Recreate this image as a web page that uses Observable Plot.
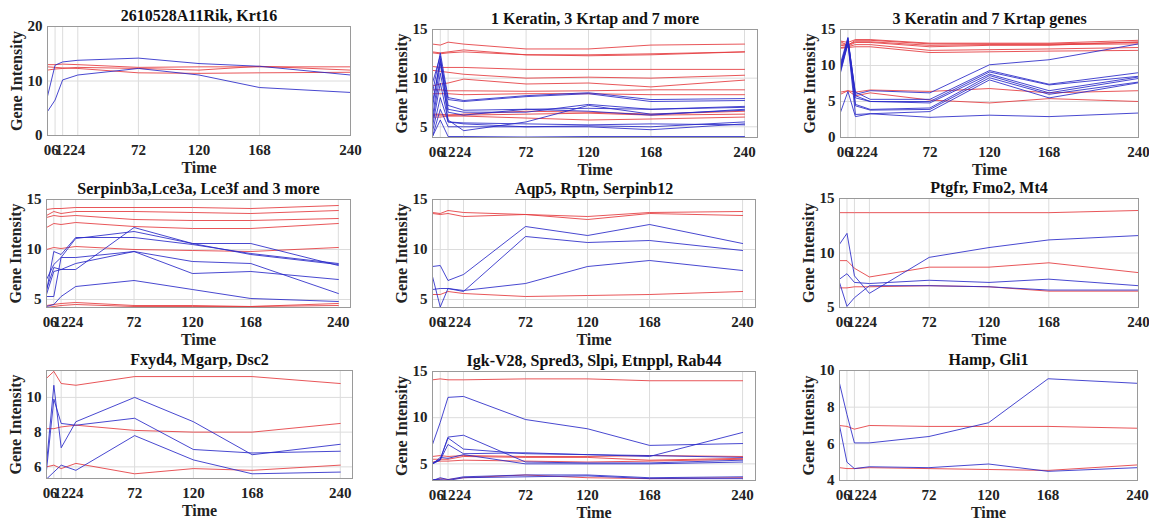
<!DOCTYPE html>
<html><head><meta charset="utf-8">
<script src="https://cdn.jsdelivr.net/npm/d3@7"></script>
<script src="https://cdn.jsdelivr.net/npm/@observablehq/plot@0.6"></script>
<style>
body{margin:0;background:#fff;}
#chart{position:relative;width:1149px;height:523px;overflow:hidden;background:#fff;}
#chart svg{position:absolute;overflow:visible;}
</style></head><body><div id="chart"></div>
<script>
// ---- data ----
const times = [0, 6, 12, 24, 72, 120, 168, 240];
const timeTickLabels = ["0", "6", "12", "24", "72", "120", "168", "240"];
const titles = [
  "2610528A11Rik, Krt16",
  "1 Keratin, 3 Krtap and 7 more",
  "3 Keratin and 7 Krtap genes",
  "Serpinb3a,Lce3a, Lce3f and 3 more",
  "Aqp5, Rptn, Serpinb12",
  "Ptgfr, Fmo2, Mt4",
  "Fxyd4, Mgarp, Dsc2",
  "Igk-V28, Spred3, Slpi, Etnppl, Rab44",
  "Hamp, Gli1"
];

const p1Red = [
  [13.0,13.0,13.1,13.0,12.5,12.6,12.6,12.6],
  [12.0,12.2,12.3,12.5,12.3,12.0,12.7,12.0],
  [12.6,12.5,12.4,12.3,11.5,11.4,11.5,11.6]
];
const p1Blue = [
  [7.2,12.9,13.5,13.8,14.2,13.2,12.7,11.1],
  [4.4,6.5,10.2,11.1,12.3,11.1,8.8,7.9]
];
const p2Red = [
  [13.5,13.4,13.7,13.5,13.0,13.0,13.4,13.5],
  [12.7,12.6,12.7,12.9,12.4,12.3,12.4,12.7],
  [12.6,12.5,12.6,12.7,12.4,12.4,12.5,12.7],
  [11.2,11.1,11.1,11.1,10.9,10.9,10.9,10.9],
  [10.8,10.7,10.6,10.4,10.0,10.1,10.0,10.3],
  [9.2,9.4,9.5,9.9,9.4,9.5,9.1,9.8],
  [8.8,8.8,8.7,8.7,8.65,8.7,8.8,8.8],
  [8.4,8.4,8.4,8.3,8.4,8.4,8.3,8.3],
  [6.2,6.2,6.2,6.3,6.6,6.5,6.3,6.6],
  [6.0,6.0,6.1,6.1,5.9,5.7,5.8,6.0],
  [6.3,6.3,6.2,6.2,6.3,6.4,6.2,6.3]
];
const p2Blue = [
  [8.5,12.6,8.0,7.7,8.2,8.5,7.8,7.9],
  [7.0,12.0,7.8,7.6,8.1,8.4,7.6,7.7],
  [6.0,11.5,6.8,6.5,6.5,7.3,6.8,7.1],
  [5.5,10.5,6.5,6.2,6.8,6.6,6.2,6.8],
  [5.0,9.5,5.7,4.6,5.5,7.2,6.3,6.7],
  [4.5,8.0,5.5,5.3,5.0,5.0,4.7,5.3],
  [4.0,6.8,5.0,5.0,5.0,5.1,5.0,5.5],
  [4.0,5.7,4.0,4.0,3.95,4.0,4.0,4.0],
  [9.5,12.3,5.5,5.4,5.3,5.2,5.3,5.2],
  [7.5,11.8,7.2,6.7,6.8,6.9,6.8,7.0]
];
const p3Red = [
  [13.3,12.8,13.5,13.5,13.0,13.0,13.0,13.2],
  [13.0,12.9,13.3,13.3,12.8,12.9,12.9,13.0],
  [12.8,12.7,13.2,13.2,12.6,12.8,12.8,13.3],
  [12.5,12.6,12.9,12.9,12.1,12.2,12.3,12.5],
  [12.4,12.5,12.6,12.6,11.8,11.9,12.0,12.1],
  [13.4,13.2,13.6,13.6,13.1,13.1,13.1,13.5],
  [6.3,6.5,6.3,6.6,6.4,6.8,6.2,6.5],
  [6.0,6.5,5.8,6.2,5.2,4.8,5.4,5.0]
];
const p3Blue = [
  [9.5,13.8,6.0,6.5,6.2,10.1,10.8,13.0],
  [10.0,13.5,6.3,5.3,5.3,9.3,7.4,9.0],
  [9.8,13.6,5.8,5.0,5.0,9.1,7.3,8.5],
  [9.2,13.2,5.5,5.0,4.8,8.8,6.5,8.4],
  [9.0,13.0,4.6,3.9,4.1,8.6,6.2,8.2],
  [10.3,13.9,4.4,3.8,3.9,8.3,6.0,7.7],
  [9.5,13.1,3.2,3.3,3.6,8.0,5.5,7.6],
  [3.5,6.4,2.9,3.3,2.8,3.1,2.9,3.4]
];
const p4Red = [
  [14.0,14.1,14.1,14.2,14.2,14.2,14.1,14.4],
  [13.4,13.8,13.6,13.8,13.8,13.7,13.6,13.9],
  [13.2,13.4,13.3,13.4,13.0,12.9,12.9,13.1],
  [12.2,12.6,12.5,12.7,12.3,12.1,12.1,12.6],
  [10.0,10.2,10.1,10.3,10.0,9.9,9.8,10.2],
  [4.4,4.5,4.6,4.7,4.4,4.4,4.3,4.6],
  [4.2,4.3,4.4,4.5,4.3,4.3,4.3,4.4]
];
const p4Blue = [
  [5.8,9.8,9.5,11.2,11.2,10.5,9.6,8.6],
  [5.5,7.8,8.0,8.0,12.2,10.6,9.5,8.5],
  [7.0,8.5,9.2,11.1,11.8,10.6,10.6,8.4],
  [6.0,8.2,8.0,8.6,9.8,8.8,8.6,5.6],
  [5.3,5.3,9.2,9.2,9.8,7.6,7.8,7.0],
  [4.3,4.5,5.3,6.3,6.9,6.0,5.1,4.8]
];
const p5Red = [
  [13.7,13.6,13.9,13.7,13.5,13.3,13.7,13.8],
  [13.6,13.5,13.6,13.3,13.5,13.0,13.6,13.4],
  [5.5,5.5,5.8,5.6,5.3,5.4,5.5,5.8]
];
const p5Blue = [
  [8.3,8.4,6.9,7.5,12.3,11.4,12.5,10.6],
  [6.0,6.1,6.1,5.8,11.3,10.7,10.9,9.9],
  [7.3,4.25,6.1,5.9,6.6,8.3,8.9,7.9]
];
const p6Red = [
  [13.7,13.7,13.7,13.7,13.7,13.7,13.7,13.9],
  [9.3,9.3,8.6,7.8,8.7,8.7,9.1,8.2],
  [6.8,6.8,6.9,6.9,7.0,6.9,6.5,6.5]
];
const p6Blue = [
  [10.8,11.8,7.9,6.3,9.6,10.5,11.2,11.6],
  [7.6,8.1,7.3,7.2,7.5,7.3,7.6,7.0],
  [7.3,5.1,5.9,7.0,7.0,6.9,6.6,6.6]
];
const p7Red = [
  [11.1,11.5,10.8,10.7,11.2,11.2,11.2,10.8],
  [8.2,8.2,8.3,8.4,8.1,8.0,8.0,8.5],
  [6.0,6.1,5.9,6.2,5.6,5.9,5.8,6.1]
];
const p7Blue = [
  [6.2,10.7,7.1,8.6,10.0,8.6,6.7,7.3],
  [5.8,9.9,8.5,8.4,8.8,7.0,6.8,6.9],
  [5.3,5.7,6.1,5.8,7.8,6.4,5.6,5.7]
];
const p8Red = [
  [14.1,14.2,14.1,14.1,14.2,14.2,14.0,14.0],
  [5.8,5.9,5.8,5.9,5.8,5.8,5.9,5.8],
  [5.5,5.5,5.5,5.8,5.7,5.7,5.4,5.6],
  [5.2,5.3,5.3,5.4,5.3,5.2,5.3,5.5],
  [3.2,3.4,3.3,3.5,3.8,3.5,3.4,3.5]
];
const p8Blue = [
  [7.1,9.5,12.2,12.3,9.8,8.8,7.0,7.2],
  [5.0,5.5,7.9,8.1,5.2,5.1,5.1,5.4],
  [5.1,5.5,7.8,6.6,6.1,6.0,5.8,8.4],
  [5.0,5.4,7.1,6.1,6.2,6.0,5.9,5.7],
  [5.0,5.7,5.6,6.0,5.0,5.0,5.0,5.2],
  [3.2,3.5,3.3,3.6,3.8,3.8,3.5,3.6],
  [3.3,3.3,3.2,3.5,3.6,3.7,3.4,3.4]
];
const p9Red = [
  [7.0,6.95,6.8,7.0,6.95,6.95,6.95,6.85],
  [4.7,4.65,4.65,4.7,4.65,4.6,4.55,4.85]
];
const p9Blue = [
  [9.3,7.6,6.05,6.05,6.4,7.15,9.55,9.3],
  [7.0,5.0,4.65,4.75,4.7,4.9,4.5,4.7]
];

const redSets = [p1Red, p2Red, p3Red, p4Red, p5Red, p6Red, p7Red, p8Red, p9Red];
const blueSets = [p1Blue, p2Blue, p3Blue, p4Blue, p5Blue, p6Blue, p7Blue, p8Blue, p9Blue];
const yDomains = [[0,20],[3.9,15],[0,15],[4.2,15],[4.2,15],[5,15],[5.33,11.55],[3.2,15],[4,10]];
const yTickSets = [[0,10,20],[5,10,15],[0,5,10,15],[5,10,15],[5,10,15],[5,10,15],[6,8,10],[5,10,15],[4,6,8,10]];
const xMaxes = [240, 250, 240, 250, 250, 240, 250, 250, 240];

// ---- layout (page pixel frame boxes) ----
const frames = [
  [47,350,26,135],[432,757,29,137],[840,1138,29,137],
  [46,350,199,307],[432,755,199,307],[839,1138,198,307],
  [46,352,370,478],[432,755,371,480],[839,1137,370,480]
];
const cellLefts = [0, 383, 766];
const cellTops = [0, 172, 345];
const cellHeights = [172, 173, 178];
const RED = "#e4383c", BLUE = "#2828c8";
const FONT = "'Liberation Serif', 'Times New Roman', serif";

function toRows(sets) {
  const rows = [];
  sets.forEach((vals, j) => vals.forEach((v, k) => rows.push({t: times[k], v, id: j})));
  return rows;
}

const chart = document.getElementById("chart");
titles.forEach((title, i) => {
  const col = i % 3, row = Math.floor(i / 3);
  const [x0, x1, y0, y1] = frames[i];
  const L = cellLefts[col], T = cellTops[row], W = 383, H = cellHeights[row];
  const svg = Plot.plot({
    width: W, height: H,
    marginLeft: x0 - L, marginRight: L + W - x1,
    marginTop: y0 - T, marginBottom: T + H - y1,
    style: {fontFamily: FONT, background: "transparent", overflow: "visible"},
    x: {domain: [0, xMaxes[i]]},
    y: {domain: yDomains[i]},
    marks: [
      Plot.gridX(times, {stroke: "#dcdcdc", strokeOpacity: 1}),
      Plot.gridY(yTickSets[i], {stroke: "#dcdcdc", strokeOpacity: 1}),
      Plot.line(toRows(redSets[i]), {x: "t", y: "v", z: "id", stroke: RED, strokeWidth: 1, strokeOpacity: 0.85, clip: true}),
      Plot.line(toRows(blueSets[i]), {x: "t", y: "v", z: "id", stroke: BLUE, strokeWidth: 1, strokeOpacity: 0.85, clip: true}),
      Plot.frame({stroke: "#9a9a9a"}),
      Plot.axisX(times, {tickSize: 0, tickPadding: 9, fontSize: 15, fontWeight: "bold", fill: "#222", label: null,
        tickFormat: (d) => timeTickLabels[times.indexOf(d)]}),
      Plot.axisY(yTickSets[i], {tickSize: 0, tickPadding: 5, fontSize: 15, fontWeight: "bold", fill: "#222", label: null}),
      Plot.text([title], {frameAnchor: "top", textAnchor: "middle", lineAnchor: "middle", dy: -11,
        text: (d) => d, fontSize: 16, fontWeight: "bold", fill: "#111"}),
      Plot.text(["Gene Intensity"], {frameAnchor: "left", textAnchor: "middle", lineAnchor: "middle", dx: -31, rotate: -90,
        text: (d) => d, fontSize: 16, fontWeight: "bold", fill: "#222"}),
      Plot.text(["Time"], {frameAnchor: "bottom", textAnchor: "middle", lineAnchor: "middle", dy: 32,
        text: (d) => d, fontSize: 16, fontWeight: "bold", fill: "#222"})
    ]
  });
  svg.style.left = L + "px";
  svg.style.top = T + "px";
  chart.appendChild(svg);
});
</script>
</body></html>
